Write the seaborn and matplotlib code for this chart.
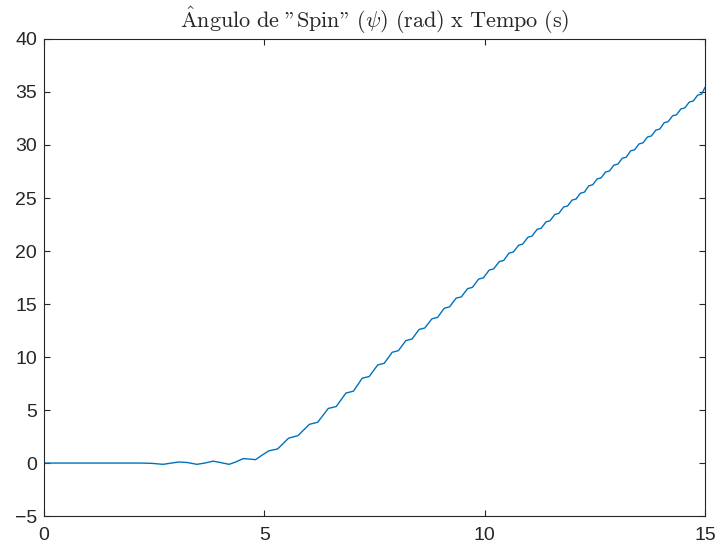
import matplotlib
matplotlib.use("Agg")
import matplotlib.pyplot as plt
import seaborn as sns
import pandas as pd

# Spin angle psi (rad) against time (s), sampled along each ripple
tempo = [
    0.00, 2.20, 2.45, 2.70, 2.90, 3.05, 3.25, 3.47, 3.65, 3.84, 4.00, 4.20,
    4.35, 4.52, 4.65, 4.80, 4.95,
    5.10, 5.30, 5.55, 5.76, 6.02, 6.21, 6.45, 6.63, 6.85, 7.02,
    7.22, 7.38, 7.57, 7.72, 7.90, 8.04, 8.21, 8.35, 8.51, 8.64,
    8.80, 8.93, 9.08, 9.20, 9.35, 9.47, 9.61, 9.72, 9.86, 9.97,
    10.10, 10.20, 10.33, 10.43, 10.55, 10.65, 10.77, 10.86, 10.98, 11.07,
    11.19, 11.28, 11.39, 11.48, 11.59, 11.68, 11.79, 11.88, 11.98, 12.07,
    12.17, 12.26, 12.36, 12.45, 12.55, 12.64, 12.74, 12.83, 12.93, 13.02,
    13.12, 13.21, 13.31, 13.40, 13.50, 13.59, 13.69, 13.78, 13.88, 13.97,
    14.07, 14.16, 14.26, 14.35, 14.45, 14.54, 14.64, 14.73, 14.83, 14.92,
    15.00,
]
psi = [
    0.00, 0.00, -0.03, -0.12, 0.00, 0.10, 0.05, -0.12, 0.00, 0.18, 0.05, -0.12,
    0.10, 0.42, 0.38, 0.32, 0.75,
    1.15, 1.33, 2.35, 2.58, 3.65, 3.85, 5.15, 5.33, 6.60, 6.78,
    8.00, 8.17, 9.25, 9.41, 10.45, 10.60, 11.55, 11.70, 12.60, 12.74,
    13.60, 13.74, 14.60, 14.73, 15.55, 15.68, 16.45, 16.57, 17.35, 17.47,
    18.20, 18.31, 19.00, 19.11, 19.80, 19.91, 20.55, 20.65, 21.30, 21.40,
    22.05, 22.15, 22.75, 22.85, 23.45, 23.55, 24.15, 24.25, 24.80, 24.90,
    25.45, 25.55, 26.15, 26.25, 26.80, 26.90, 27.45, 27.55, 28.10, 28.20,
    28.75, 28.85, 29.45, 29.55, 30.10, 30.20, 30.75, 30.85, 31.40, 31.50,
    32.10, 32.20, 32.75, 32.85, 33.40, 33.50, 34.05, 34.15, 34.70, 34.80,
    35.45,
]

x_ticks = [0, 5, 10, 15]
y_ticks = [-5, 0, 5, 10, 15, 20, 25, 30, 35, 40]
# cmr10 uses the TeX text encoding, where '"' is the closing double quote
titulo = (r"$\mathrm{\hat{A}ngulo\ de\ }$"
          '"Spin"'
          r"$\mathrm{\ (\psi)\ (rad)\ x\ Tempo\ (s)}$")

sns.set_theme(style="white")
plt.rcParams["font.family"] = ["Liberation Sans", "DejaVu Sans"]
plt.rcParams["mathtext.fontset"] = "cm"

df = pd.DataFrame({"Tempo": tempo, "psi": psi})

fig = plt.figure(figsize=(7.21, 5.49), dpi=100)
ax = fig.add_axes([0.061, 0.060, 0.917, 0.869])

sns.lineplot(data=df, x="Tempo", y="psi", ax=ax, sort=False, estimator=None,
             color="#0072BD", linewidth=1.0)

ax.set_xlim(0, 15)
ax.set_ylim(-5, 40)
ax.set_xticks(x_ticks)
ax.set_yticks(y_ticks)
ax.set_xlabel("")
ax.set_ylabel("")

for side in ["top", "bottom", "left", "right"]:
    ax.spines[side].set_visible(True)
    ax.spines[side].set_color("#262626")
    ax.spines[side].set_linewidth(0.8)

ax.tick_params(axis="both", which="major", direction="in", length=4.5,
               width=0.8, color="#262626", labelsize=14, labelcolor="#262626",
               top=True, right=True, bottom=True, left=True)
ax.tick_params(axis="x", pad=8)
ax.tick_params(axis="y", pad=5)

ax.set_title(titulo, fontsize=16, family=["cmr10", "Liberation Serif"],
             color="#262626", pad=8)

fig.savefig("out.png", dpi=100)
